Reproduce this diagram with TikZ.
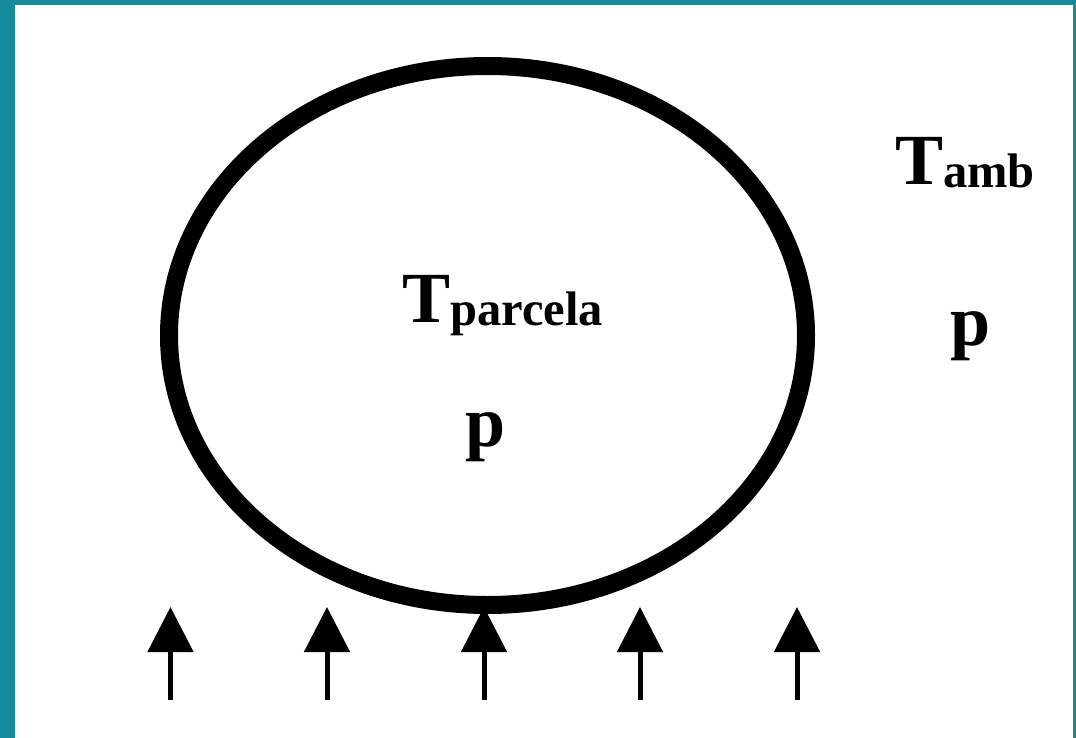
\documentclass[tikz,border=0pt]{standalone}
\usepackage{fontspec}
\setmainfont{Liberation Serif}
\usetikzlibrary{shapes.geometric,arrows.meta}
\definecolor{frameteal}{HTML}{168B9C}
\tikzset{
  bubble/.style={draw=black, line width=18pt, ellipse, minimum width=637pt, minimum height=539pt, inner sep=0pt},
  upflow/.style={line width=5pt, -{Triangle[length=45pt,width=45pt]}},
  lbl/.style={anchor=base west, inner sep=0pt, font=\bfseries},
}
\newcommand{\bigT}{{\fontsize{72}{72}\selectfont T}}
\newcommand{\subtxt}[1]{\raisebox{-3pt}{\fontsize{48.5}{48.5}\selectfont #1}}
\begin{document}
\begin{tikzpicture}[x=1pt,y=-1pt]
\useasboundingbox (0,0) rectangle (1076,738);
\fill[frameteal] (0,0) rectangle (1076,738);
\fill[white] (15,5) rectangle (1073,738);
\node[bubble] (parcel) at (487.5,335.5) {};
\node[lbl] (tpar) at (402,322) {\bigT\subtxt{parcela}};
\node[lbl] (ppar) at (465,446) {\fontsize{72}{72}\selectfont p};
\node[lbl] (tamb) at (895,185) {\bigT\subtxt{amb}};
\node[lbl] (pamb) at (950,345) {\fontsize{72}{72}\selectfont p};
\foreach \i/\x in {1/170.5,2/327,3/484,4/640,5/797}{
  \coordinate (b\i) at (\x,700);
  \coordinate (t\i) at (\x,607);
  \draw[upflow] (b\i) -- (t\i);
}
\end{tikzpicture}
\end{document}
